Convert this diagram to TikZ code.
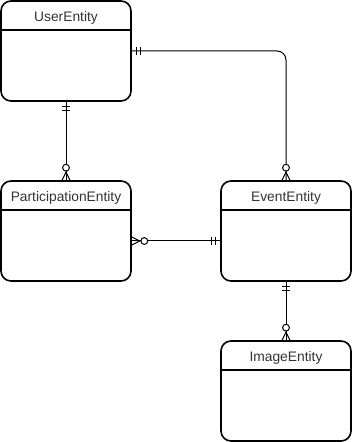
\documentclass[tikz,border=0pt]{standalone}
\usepackage{fontspec}
\setmainfont{Liberation Sans}
\usetikzlibrary{calc}
\begin{document}
\begin{tikzpicture}[x=1pt,y=1pt,
  entity/.style={draw=black, line width=1.6pt, rounded corners=10pt,
    minimum width=130pt, minimum height=100pt, inner sep=0pt, fill=white},
  conn/.style={draw=black, line width=1pt},
  title/.style={text=black!80, font=\fontsize{13.8}{16}\selectfont, inner sep=0pt, anchor=base},
  mandone/.pic={\draw[conn] (5,-4)--(5,4) (9,-4)--(9,4);},
  zeromany/.pic={\draw[conn] (0,-4)--(8,0)--(0,4);
                 \draw[conn,fill=white] (12.5,0) circle (3.4pt);}
]
\useasboundingbox (0,0) rectangle (352,442);

% entities
\node[entity] (user)  at (66,391)  {};
\node[entity] (part)  at (66,211)  {};
\node[entity] (event) at (286,211) {};
\node[entity] (image) at (286,51)  {};

% header separators and titles
\foreach \n/\t in {user/UserEntity, part/ParticipationEntity, event/EventEntity, image/ImageEntity}{
  \draw[line width=1.6pt] ($(\n.north west)+(0,-30)$) -- ($(\n.north east)+(0,-30)$);
  \node[title] (\n-title) at ($(\n.north)+(0,-21.3)$) {\t};
}

% attachment points on the entity bodies
\coordinate (part-out) at ($(part.east)+(0,-10)$);
\coordinate (event-in) at ($(event.west)+(0,-10)$);

% relationships
\draw[conn] (user.south) -- (part.north);
\draw[conn, rounded corners=9pt] (user.east) -| (event.north);
\draw[conn] (part-out) -- (event-in);
\draw[conn] (event.south) -- (image.north);

% cardinality marks
\pic[rotate=-90] at (user.south)  {mandone};
\pic[rotate=90]  at (part.north)  {zeromany};
\pic             at (user.east)   {mandone};
\pic[rotate=90]  at (event.north) {zeromany};
\pic             at (part-out)    {zeromany};
\pic[rotate=180] at (event-in)    {mandone};
\pic[rotate=-90] at (event.south) {mandone};
\pic[rotate=90]  at (image.north) {zeromany};
\end{tikzpicture}
\end{document}
